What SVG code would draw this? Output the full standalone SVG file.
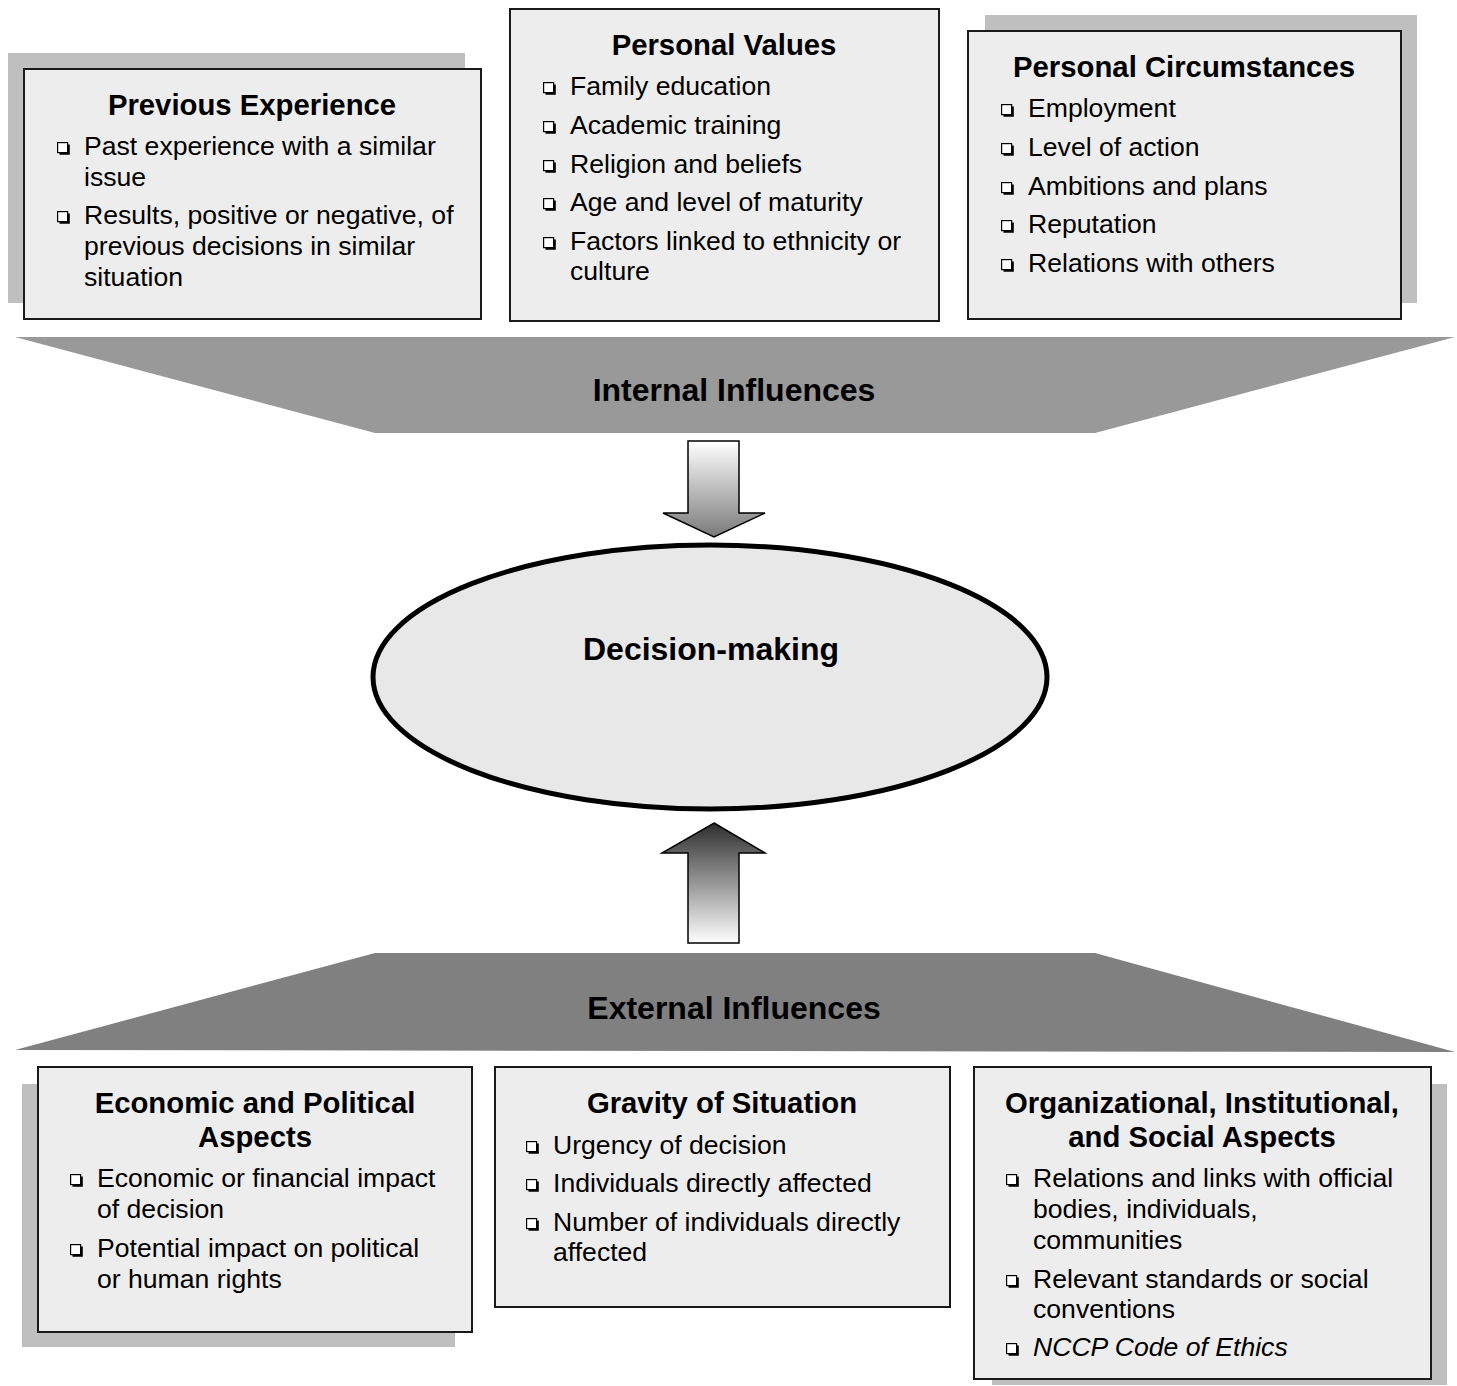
<svg xmlns="http://www.w3.org/2000/svg" xmlns:xlink="http://www.w3.org/1999/xlink" width="1457" height="1386" viewBox="0 0 1457 1386">
<style>
.box{fill:#ededed;stroke:#1a1a1a;stroke-width:2}
.shadow{fill:#bfbfbf}
.title{font-family:"Liberation Sans",Arial,sans-serif;font-weight:bold;font-size:29.3px;fill:#000;text-anchor:middle}
.item{font-family:"Liberation Sans",Arial,sans-serif;font-size:26.6px;fill:#000}
.band{font-family:"Liberation Sans",Arial,sans-serif;font-weight:bold;font-size:32px;fill:#000;text-anchor:middle}
</style>
<defs>
<symbol id="bul" viewBox="0 0 13 13" width="13" height="13" overflow="visible">
<rect x="0.6" y="0.6" width="10" height="10" fill="#fff" stroke="#000" stroke-width="1.2"/>
<path d="M10.6 2.5 H12.8 V12.8 H2.5 V10.6 H10.6 Z" fill="#000"/>
</symbol>
<linearGradient id="gDown" x1="0" y1="0" x2="0" y2="1">
<stop offset="0" stop-color="#ffffff"/>
<stop offset="1" stop-color="#7a7a7a"/>
</linearGradient>
<linearGradient id="gUp" x1="0" y1="0" x2="0" y2="1">
<stop offset="0" stop-color="#2e2e2e"/>
<stop offset="1" stop-color="#ffffff"/>
</linearGradient>
</defs>

<g id="previous-experience">
<rect class="shadow" x="8" y="53" width="457" height="250"/>
<rect class="box" x="24" y="69" width="457" height="250"/>
<text class="title" x="252" y="115">Previous Experience</text>
<use href="#bul" x="57" y="142"/>
<text class="item" x="84" y="155">Past experience with a similar</text>
<text class="item" x="84" y="186">issue</text>
<use href="#bul" x="57" y="211"/>
<text class="item" x="84" y="224">Results, positive or negative, of</text>
<text class="item" x="84" y="255">previous decisions in similar</text>
<text class="item" x="84" y="286">situation</text>
</g>

<g id="personal-values">
<rect class="box" x="510" y="9" width="429" height="312"/>
<text class="title" x="724" y="55">Personal Values</text>
<use href="#bul" x="543" y="82"/>
<text class="item" x="570" y="95">Family education</text>
<use href="#bul" x="543" y="121"/>
<text class="item" x="570" y="134">Academic training</text>
<use href="#bul" x="543" y="160"/>
<text class="item" x="570" y="173">Religion and beliefs</text>
<use href="#bul" x="543" y="198"/>
<text class="item" x="570" y="211">Age and level of maturity</text>
<use href="#bul" x="543" y="237"/>
<text class="item" x="570" y="250">Factors linked to ethnicity or</text>
<text class="item" x="570" y="280">culture</text>
</g>

<g id="personal-circumstances">
<rect class="shadow" x="985" y="15" width="432" height="288"/>
<rect class="box" x="968" y="31" width="433" height="288"/>
<text class="title" x="1184" y="77">Personal Circumstances</text>
<use href="#bul" x="1001" y="104"/>
<text class="item" x="1028" y="117">Employment</text>
<use href="#bul" x="1001" y="143"/>
<text class="item" x="1028" y="156">Level of action</text>
<use href="#bul" x="1001" y="182"/>
<text class="item" x="1028" y="195">Ambitions and plans</text>
<use href="#bul" x="1001" y="220"/>
<text class="item" x="1028" y="233">Reputation</text>
<use href="#bul" x="1001" y="259"/>
<text class="item" x="1028" y="272">Relations with others</text>
</g>

<g id="internal-influences">
<polygon points="15,337 1455,337 1095,433 375,433" fill="#999999"/>
<text class="band" x="734" y="401">Internal Influences</text>
</g>

<g id="decision-making">
<ellipse cx="710" cy="677" rx="337" ry="132" fill="#e8e8e8" stroke="#000" stroke-width="5"/>
<text class="band" x="711" y="660">Decision-making</text>
</g>

<g id="external-influences">
<polygon points="375,953 1095,953 1455,1052 15,1050" fill="#808080"/>
<text class="band" x="734" y="1019">External Influences</text>
</g>

<g id="economic-political">
<rect class="shadow" x="22" y="1084" width="433" height="263"/>
<rect class="box" x="38" y="1067" width="434" height="265"/>
<text class="title" x="255" y="1113">Economic and Political</text>
<text class="title" x="255" y="1147">Aspects</text>
<use href="#bul" x="70" y="1174"/>
<text class="item" x="97" y="1187">Economic or financial impact</text>
<text class="item" x="97" y="1218">of decision</text>
<use href="#bul" x="70" y="1244"/>
<text class="item" x="97" y="1257">Potential impact on political</text>
<text class="item" x="97" y="1288">or human rights</text>
</g>

<g id="gravity">
<rect class="box" x="495" y="1067" width="455" height="240"/>
<text class="title" x="722" y="1113">Gravity of Situation</text>
<use href="#bul" x="526" y="1141"/>
<text class="item" x="553" y="1154">Urgency of decision</text>
<use href="#bul" x="526" y="1179"/>
<text class="item" x="553" y="1192">Individuals directly affected</text>
<use href="#bul" x="526" y="1218"/>
<text class="item" x="553" y="1231">Number of individuals directly</text>
<text class="item" x="553" y="1261">affected</text>
</g>

<g id="organizational">
<rect class="shadow" x="992" y="1084" width="455" height="301"/>
<rect class="box" x="974" y="1067" width="457" height="312"/>
<text class="title" x="1202" y="1113">Organizational, Institutional,</text>
<text class="title" x="1202" y="1147">and Social Aspects</text>
<use href="#bul" x="1006" y="1174"/>
<text class="item" x="1033" y="1187">Relations and links with official</text>
<text class="item" x="1033" y="1218">bodies, individuals,</text>
<text class="item" x="1033" y="1249">communities</text>
<use href="#bul" x="1006" y="1275"/>
<text class="item" x="1033" y="1288">Relevant standards or social</text>
<text class="item" x="1033" y="1318">conventions</text>
<use href="#bul" x="1006" y="1343"/>
<text class="item" x="1033" y="1356" font-style="italic">NCCP Code of Ethics</text>
</g>

<g id="connectors">
<polygon points="688,441 739,441 739,513 765,513 714,537 663,513 688,513" fill="url(#gDown)" stroke="#000" stroke-width="1.5"/>
<polygon points="714,823 765,853 739,853 739,943 688,943 688,853 662,853" fill="url(#gUp)" stroke="#000" stroke-width="1.5"/>
</g>
</svg>
